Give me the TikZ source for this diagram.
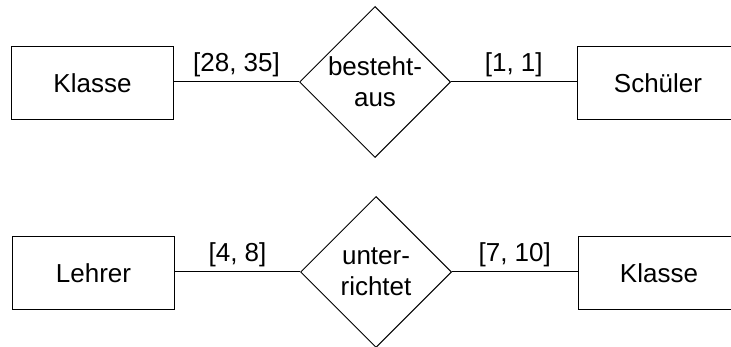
\documentclass[tikz,border=0pt]{standalone}
\usepackage{fontspec}
\setmainfont{Liberation Sans}
\usetikzlibrary{shapes.geometric}
\begin{document}
\begin{tikzpicture}[x=1pt,y=-1pt,
  every node/.style={font=\fontsize{26}{31}\selectfont},
  entity/.style={draw,line width=1pt,rectangle,minimum width=162pt,minimum height=73pt,inner sep=0pt},
  rel/.style={draw,line width=1pt,diamond,minimum width=151pt,minimum height=151pt,inner sep=0pt,align=center},
  conn/.style={line width=1pt},
  card/.style={above=2pt,inner sep=3pt}]
\useasboundingbox (0,0) rectangle (731,347);
\node[entity] (k1) at (92.5,83) {Klasse};
\node[rel] (r1) at (375,82) {besteht-\\aus};
\node[entity] (s1) at (658,83) {Schüler};
\draw[conn] (k1.east |- r1.west) -- node[card] (c1) {[28, 35]} (r1.west);
\draw[conn] (r1.east) -- node[card] (c2) {[1, 1]} (s1.west |- r1.east);
\node[entity] (l2) at (93.5,273) {Lehrer};
\node[rel] (r2) at (376,272) {unter-\\richtet};
\node[entity] (k2) at (659,273) {Klasse};
\draw[conn] (l2.east |- r2.west) -- node[card] (c3) {[4, 8]} (r2.west);
\draw[conn] (r2.east) -- node[card] (c4) {[7, 10]} (k2.west |- r2.east);
\end{tikzpicture}
\end{document}
